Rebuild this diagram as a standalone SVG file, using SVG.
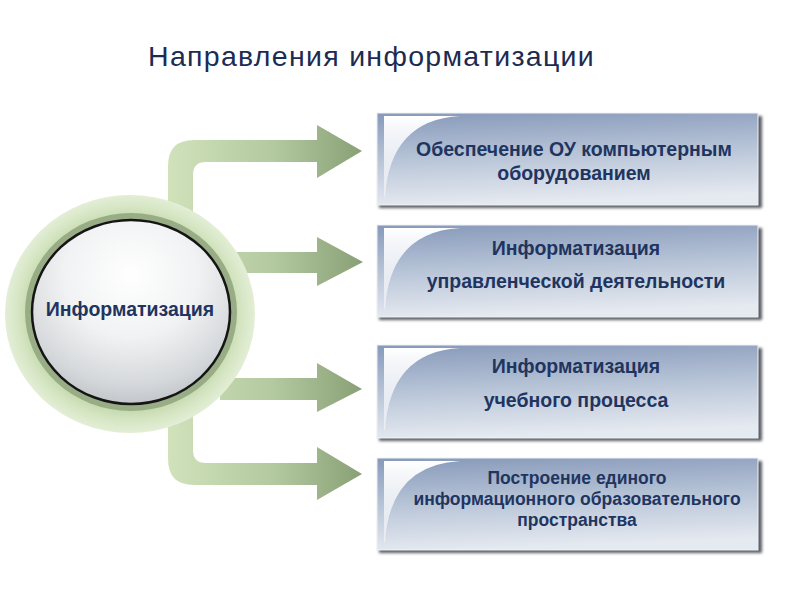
<svg xmlns="http://www.w3.org/2000/svg" width="800" height="600" viewBox="0 0 800 600">
<defs>
<style>
.title{font-family:"Liberation Sans",Arial,sans-serif;font-size:28.5px;letter-spacing:1.3px;fill:#1c2b52}
.bt{font-family:"Liberation Sans",Arial,sans-serif;font-weight:bold;font-size:19.5px;fill:#1f3560;text-anchor:middle}
.bt4{font-size:17.5px}
.arrow{fill:url(#ag)}
.box{fill:url(#bg);stroke:#eef1f5;stroke-width:1}
.shadow{fill:#5a5f66;filter:url(#blur)}
.swoosh{fill:url(#sw)}
</style>
<linearGradient id="ag" gradientUnits="userSpaceOnUse" x1="160" y1="0" x2="365" y2="0">
<stop offset="0" stop-color="#d3e4bd"/>
<stop offset="0.55" stop-color="#b3c99f"/>
<stop offset="1" stop-color="#889f76"/>
</linearGradient>
<linearGradient id="bg" x1="0" y1="0" x2="0.15" y2="1">
<stop offset="0" stop-color="#8799ba"/>
<stop offset="0.5" stop-color="#b7c4d7"/>
<stop offset="1" stop-color="#e5e9f0"/>
</linearGradient>
<linearGradient id="sw" x1="0" y1="0" x2="0" y2="1">
<stop offset="0" stop-color="#ffffff" stop-opacity="1"/>
<stop offset="1" stop-color="#ffffff" stop-opacity="0.45"/>
</linearGradient>
<radialGradient id="outer" cx="0.5" cy="0.5" r="0.5">
<stop offset="0.8" stop-color="#c4d8ac"/>
<stop offset="0.9" stop-color="#d6e6c4"/>
<stop offset="1" stop-color="#e3eed6"/>
</radialGradient>
<radialGradient id="inner" cx="0.5" cy="0.3" r="0.75">
<stop offset="0" stop-color="#ffffff"/>
<stop offset="0.45" stop-color="#f1f2f3"/>
<stop offset="0.8" stop-color="#d4d7da"/>
<stop offset="1" stop-color="#b9bdc1"/>
</radialGradient>
<filter id="blur" x="-5%" y="-10%" width="110%" height="130%"><feGaussianBlur stdDeviation="1.5"/></filter>
</defs>
<rect width="800" height="600" fill="#ffffff"/>
<text class="title" x="148" y="66">Направления информатизации</text>
<g id="connectors">
<path class="arrow" d="M168,215 L168,166 Q168,140 194,140 L317,140 L317,125 L362,151 L317,178 L317,162 L206,162 Q193,162 193,175 L193,215 Z"/>
<path class="arrow" d="M230,252 L317,252 L317,237 L363,262 L317,286 L317,273 L230,273 Z"/>
<path class="arrow" d="M220,378 L317,378 L317,363 L362,389 L317,412 L317,400 L220,400 Z"/>
<path class="arrow" d="M168,405 L168,459 Q168,485 194,485 L317,485 L317,500 L362,474 L317,447 L317,463 L206,463 Q193,463 193,450 L193,405 Z"/>
</g>
<g id="center">
<ellipse cx="130" cy="314" rx="125" ry="119" fill="url(#outer)"/>
<ellipse cx="131" cy="312" rx="106" ry="99" fill="#98ad86"/>
<ellipse cx="131" cy="312" rx="99" ry="92" fill="url(#inner)" stroke="#151515" stroke-width="2.5"/>
<text class="bt" x="130" y="316">Информатизация</text>
</g>
<g id="box1">
<rect class="shadow" x="379" y="116" width="383" height="92"/>
<rect class="box" x="377" y="113" width="381" height="92"/>
<path class="swoosh" d="M384,116 L460,116 Q390,120 385,197 L384,197 Z"/>
<text class="bt" x="574" y="156">Обеспечение ОУ компьютерным</text>
<text class="bt" x="574" y="180">оборудованием</text>
</g>
<g id="box2">
<rect class="shadow" x="379" y="228" width="383" height="92"/>
<rect class="box" x="377" y="225" width="381" height="92"/>
<path class="swoosh" d="M384,228 L460,228 Q390,232 385,309 L384,309 Z"/>
<text class="bt" x="576" y="255">Информатизация</text>
<text class="bt" x="576" y="288">управленческой деятельности</text>
</g>
<g id="box3">
<rect class="shadow" x="379" y="348" width="383" height="93"/>
<rect class="box" x="377" y="345" width="381" height="93"/>
<path class="swoosh" d="M384,348 L460,348 Q390,352 385,430 L384,430 Z"/>
<text class="bt" x="576" y="373">Информатизация</text>
<text class="bt" x="576" y="407">учебного процесса</text>
</g>
<g id="box4">
<rect class="shadow" x="379" y="461" width="383" height="92"/>
<rect class="box" x="377" y="458" width="381" height="92"/>
<path class="swoosh" d="M384,461 L460,461 Q390,465 385,542 L384,542 Z"/>
<text class="bt bt4" x="577" y="484">Построение единого</text>
<text class="bt bt4" x="577" y="505">информационного образовательного</text>
<text class="bt bt4" x="577" y="526">пространства</text>
</g>
</svg>
